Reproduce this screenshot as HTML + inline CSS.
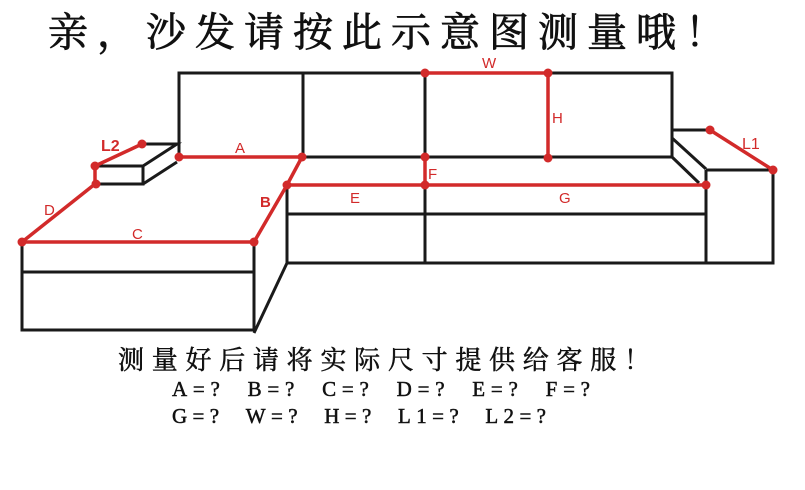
<!DOCTYPE html>
<html><head><meta charset="utf-8"><style>html,body{margin:0;padding:0;background:#fff}svg{display:block}</style></head>
<body>
<svg width="805" height="490" viewBox="0 0 805 490" xmlns="http://www.w3.org/2000/svg">
<rect width="805" height="490" fill="#fff"/>
<text x="48" y="46" font-family="Liberation Serif, Noto Serif CJK SC, serif" font-size="40" textLength="677" lengthAdjust="spacing" fill="#111" stroke="#111" stroke-width="0.8">亲，沙发请按此示意图测量哦！</text>
<g stroke="#1a1a1a" stroke-width="3" fill="none" stroke-linejoin="miter">
  <path d="M179 157 V73 H672 V158"/>
  <line x1="303" y1="73" x2="303" y2="157"/>
  <line x1="425" y1="73" x2="425" y2="263"/>
  <line x1="302" y1="157" x2="672" y2="157"/>
  <path d="M142 144 H177 L143 166"/>
  <path d="M95 166 H143 V184 H95 Z"/>
  <line x1="143" y1="184" x2="177" y2="162"/>
  <line x1="179" y1="143" x2="179" y2="157"/>
  <path d="M22 242 V330 H254 V242"/>
  <line x1="22" y1="272" x2="254" y2="272"/>
  <line x1="254" y1="333" x2="287" y2="263"/>
  <path d="M287 185 V263 H773 V170"/>
  <line x1="287" y1="214" x2="706" y2="214"/>
  <line x1="706" y1="170" x2="706" y2="263"/>
  <path d="M672 130 H710"/>
  <line x1="706" y1="170" x2="773" y2="170"/>
  <line x1="672" y1="138" x2="706" y2="169"/>
  <line x1="672" y1="157" x2="699" y2="183"/>
</g>
<g stroke="#d22a2a" stroke-width="3.5" fill="none">
  <line x1="179" y1="157" x2="302" y2="157"/>
  <line x1="95" y1="166" x2="142" y2="144"/>
  <line x1="95" y1="166" x2="95" y2="184"/>
  <line x1="95" y1="184" x2="22" y2="242"/>
  <line x1="22" y1="242" x2="254" y2="242"/>
  <polyline points="254,242 287,185 302,157"/>
  <line x1="287" y1="185" x2="706" y2="185"/>
  <line x1="425" y1="73" x2="548" y2="73"/>
  <line x1="548" y1="73" x2="548" y2="158"/>
  <line x1="425" y1="157" x2="425" y2="185"/>
  <line x1="710" y1="130" x2="773" y2="170"/>
</g>
<g fill="#d22a2a">
  <circle cx="179" cy="157" r="4.5"/><circle cx="302" cy="157" r="4.5"/>
  <circle cx="142" cy="144" r="4.5"/><circle cx="95" cy="166" r="4.5"/>
  <circle cx="96" cy="184" r="4.5"/><circle cx="22" cy="242" r="4.5"/>
  <circle cx="254" cy="242" r="4.5"/><circle cx="287" cy="185" r="4.5"/>
  <circle cx="425" cy="73" r="4.5"/><circle cx="548" cy="73" r="4.5"/>
  <circle cx="548" cy="158" r="4.5"/><circle cx="425" cy="157" r="4.5"/>
  <circle cx="425" cy="185" r="4.5"/><circle cx="706" cy="185" r="4.5"/>
  <circle cx="710" cy="130" r="4.5"/><circle cx="773" cy="170" r="4.5"/>
</g>
<g fill="#d22a2a" font-family="Liberation Sans, sans-serif" font-size="15">
  <text x="482" y="68">W</text>
  <text x="552" y="123">H</text>
  <text x="428" y="179">F</text>
  <text x="350" y="203">E</text>
  <text x="559" y="203">G</text>
  <text x="742" y="149" font-size="16">L1</text>
  <text x="101" y="151" font-size="16" font-weight="bold">L2</text>
  <text x="235" y="153">A</text>
  <text x="260" y="207" font-weight="bold">B</text>
  <text x="132" y="239">C</text>
  <text x="44" y="215">D</text>
</g>
<g fill="#111" stroke="#111" stroke-width="0.5" font-family="Liberation Serif, Noto Serif CJK SC, serif">
  <text x="118" y="369" font-size="26" textLength="532" lengthAdjust="spacing">测量好后请将实际尺寸提供给客服！</text>
  <text x="172" y="396" font-size="21" textLength="418" lengthAdjust="spacing">A=?&#160;&#160;B=?&#160;&#160;C=?&#160;&#160;D=?&#160;&#160;E=?&#160;&#160;F=?</text>
  <text x="172" y="423" font-size="21" textLength="374" lengthAdjust="spacing">G=?&#160;&#160;W=?&#160;&#160;H=?&#160;&#160;L1=?&#160;&#160;L2=?</text>
</g>
</svg>
</body></html>
